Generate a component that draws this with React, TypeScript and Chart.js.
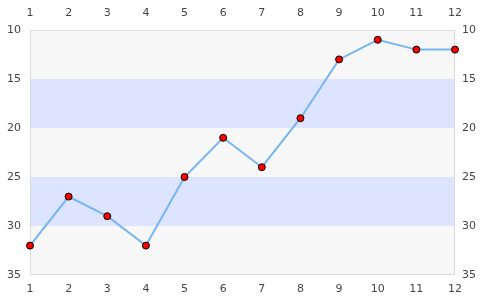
import React, { useEffect, useRef } from "react";
import { Chart, registerables } from "chart.js";

Chart.register(...registerables);

const categories = [1, 2, 3, 4, 5, 6, 7, 8, 9, 10, 11, 12];
const values = [32, 27, 29, 32, 25, 21, 24, 19, 13, 11, 12, 12];
const bandStarts = [15, 25];
const bandSize = 5;

const bandsPlugin = {
  id: "bands",
  beforeDatasetsDraw(chart: any) {
    const { ctx, chartArea, scales } = chart;
    const y = scales.y;
    ctx.save();
    ctx.fillStyle = "#f7f7f7";
    ctx.fillRect(chartArea.left, chartArea.top, chartArea.right - chartArea.left, chartArea.bottom - chartArea.top);
    ctx.fillStyle = "#dde4ff";
    for (const s of bandStarts) {
      const p1 = y.getPixelForValue(s);
      const p2 = y.getPixelForValue(s + bandSize);
      ctx.fillRect(chartArea.left, Math.min(p1, p2), chartArea.right - chartArea.left, Math.abs(p2 - p1));
    }
    ctx.strokeStyle = "#dadada";
    ctx.lineWidth = 1;
    ctx.strokeRect(chartArea.left + 0.5, chartArea.top + 0.5, chartArea.right - chartArea.left - 1, chartArea.bottom - chartArea.top - 1);
    ctx.restore();
  },
};

export default function App() {
  const ref = useRef<HTMLCanvasElement>(null);
  useEffect(() => {
    const font = { family: "DejaVu Sans", size: 11 };
    const tickCommon = { color: "#444", font, stepSize: 1 };
    const chart = new Chart(ref.current!, {
      type: "line",
      data: {
        datasets: [
          {
            data: categories.map((c, i) => ({ x: c, y: values[i] })),
            borderColor: "#77b5f0",
            borderWidth: 2,
            pointBackgroundColor: "#ff0000",
            pointBorderColor: "#000000",
            pointBorderWidth: 1,
            pointRadius: 3.5,
            tension: 0,
            clip: false as any,
          },
        ],
      },
      options: {
        animation: false,
        responsive: false,
        layout: { padding: 0 },
        plugins: { legend: { display: false }, tooltip: { enabled: false } },
        scales: {
          x: {
            type: "linear",
            position: "bottom",
            min: 1,
            max: 12,
            grid: { display: false, drawTicks: false },
            border: { display: false },
            ticks: { ...tickCommon, padding: 8 },
            afterFit: (s: any) => { s.height = 25; },
          },
          x2: {
            type: "linear",
            position: "top",
            min: 1,
            max: 12,
            grid: { display: false, drawTicks: false },
            border: { display: false },
            ticks: { ...tickCommon, padding: 10 },
            afterFit: (s: any) => { s.height = 30; },
          },
          y: {
            type: "linear",
            position: "left",
            reverse: true,
            min: 10,
            max: 35,
            grid: { display: false, drawTicks: false },
            border: { display: false },
            ticks: { color: "#444", font, stepSize: 5, padding: 9 },
            afterFit: (s: any) => { s.width = 30; },
          },
          y2: {
            type: "linear",
            position: "right",
            reverse: true,
            min: 10,
            max: 35,
            grid: { display: false, drawTicks: false },
            border: { display: false },
            ticks: { color: "#444", font, stepSize: 5, padding: 7 },
            afterFit: (s: any) => { s.width = 30; },
          },
        },
      },
      plugins: [bandsPlugin],
    } as any);
    return () => chart.destroy();
  }, []);
  return (
    <div style={{ position: "fixed", left: 0, top: 0, width: 485, height: 300, background: "#fff" }}>
      <canvas ref={ref} width={485} height={300} style={{ width: 485, height: 300 }} />
    </div>
  );
}
